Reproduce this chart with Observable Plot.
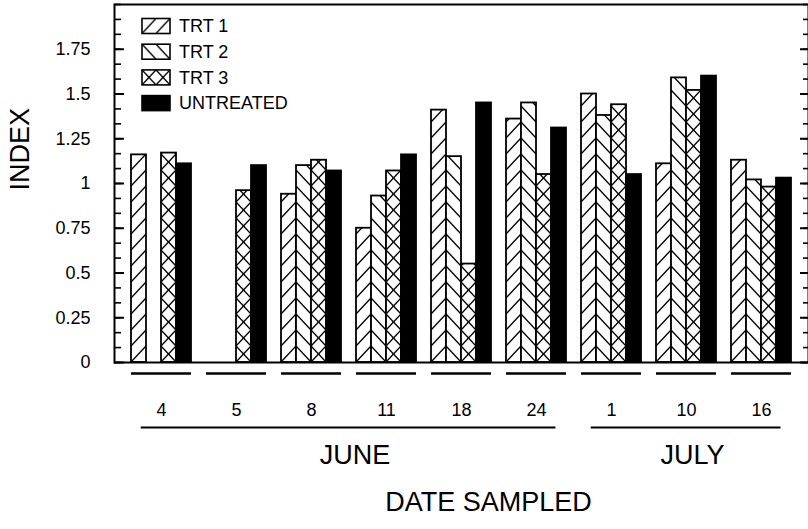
<!DOCTYPE html>
<html><head><meta charset="utf-8">
<script src="https://cdn.jsdelivr.net/npm/d3@7"></script>
<script src="https://cdn.jsdelivr.net/npm/@observablehq/plot@0.6"></script>
<style>
body{margin:0;background:#fff;}
#chart{position:relative;width:808px;height:529px;}
</style></head><body><div id="chart"></div>
<script>
const dates = ["Jun 4","Jun 5","Jun 8","Jun 11","Jun 18","Jun 24","Jul 1","Jul 10","Jul 16"];
const dayLabels = ["4","5","8","11","18","24","1","10","16"];
const months = ["JUNE","JULY"];
const monthOfDate = ["JUNE","JUNE","JUNE","JUNE","JUNE","JUNE","JULY","JULY","JULY"];
const series = ["TRT 1","TRT 2","TRT 3","UNTREATED"];
const trt1 = [1.16, null, 0.94, 0.75, 1.41, 1.36, 1.50, 1.11, 1.13];
const trt2 = [null, null, 1.10, 0.93, 1.15, 1.45, 1.38, 1.59, 1.02];
const trt3 = [1.17, 0.96, 1.13, 1.07, 0.55, 1.05, 1.44, 1.52, 0.98];
const untreated = [1.11, 1.10, 1.07, 1.16, 1.45, 1.31, 1.05, 1.60, 1.03];
const yTicks = [0, 0.25, 0.5, 0.75, 1, 1.25, 1.5, 1.75];
const yTickLabels = ["0", "0.25", "0.5", "0.75", "1", "1.25", "1.5", "1.75"];
const yMinorTicks = d3.range(0, 25).map(i => i / 12);
const yLabel = "INDEX";
const xLabel = "DATE SAMPLED";
const fills = ["url(#h1)", "url(#h2)", "url(#h3)", "black"];

// layout of a group: 4 adjacent bars, each 0.2 of the group step
const barW = 0.2;
const groupIdx = dates.map((d, i) => i);
const allSeries = [trt1, trt2, trt3, untreated];
const rows = dates.flatMap((d, i) => series.map((s, j) => ({
  date: d, g: i, series: s, value: allSeries[j][i],
  x1: i - 2 * barW + j * barW, x2: i - 2 * barW + (j + 1) * barW
}))).filter(r => r.value != null);
const monthRows = months.map(m => {
  const idx = groupIdx.filter(i => monthOfDate[i] === m);
  return {month: m, first: idx[0], last: idx[idx.length - 1]};
});

const font = "'Liberation Sans', Arial, Helvetica, sans-serif";
const outer = 0.2267;
const xMin = -2 * barW - outer, xMax = dates.length - 1 + 2 * barW + outer;
const px = (xMax - xMin) / 694; // data units per pixel along x (for tick lengths)

const plot = Plot.plot({
  width: 808, height: 529,
  marginLeft: 114, marginRight: 0, marginTop: 4, marginBottom: 167,
  style: {fontFamily: font, background: "white", color: "black", fontSize: "18px"},
  x: {domain: [xMin, xMax], axis: null},
  y: {domain: [0, 2], axis: null},
  color: {domain: series, range: fills},
  marks: [
    Plot.rectY(rows, {x1: "x1", x2: "x2", y: "value", fill: "series", stroke: "black", strokeWidth: 1.8}),
    Plot.frame({stroke: "black", strokeWidth: 2}),
    Plot.axisY(yTicks, {anchor: "left", tickSize: 0, tickPadding: 24, fontSize: 18, label: null,
      tickFormat: v => yTickLabels[yTicks.indexOf(v)]}),
    // inward ticks on both vertical edges of the frame
    Plot.ruleY(yTicks, {x1: () => xMin, x2: () => xMin + 10 * px, stroke: "black", strokeWidth: 2}),
    Plot.ruleY(yMinorTicks, {x1: () => xMin, x2: () => xMin + 7 * px, stroke: "black", strokeWidth: 1.6}),
    Plot.ruleY(yTicks, {x1: () => xMax - 8 * px, x2: () => xMax, stroke: "black", strokeWidth: 2}),
    Plot.ruleY(yMinorTicks, {x1: () => xMax - 5 * px, x2: () => xMax, stroke: "black", strokeWidth: 1.6}),
    Plot.axisX(groupIdx, {anchor: "bottom", tickSize: 0, tickPadding: 41, fontSize: 18, label: null,
      tickFormat: i => dayLabels[i]}),
    Plot.ruleY(groupIdx, {x1: i => i - 2 * barW, x2: i => i + 2 * barW, y: () => 0, dy: 11, stroke: "black", strokeWidth: 2.5}),
    Plot.ruleY(monthRows, {x1: d => d.first - 2 * barW + 0.13, x2: d => d.last + 2 * barW - 0.14, y: () => 0, dy: 65, stroke: "black", strokeWidth: 2}),
    Plot.text(monthRows, {x: d => (d.first + d.last) / 2 + 0.08, frameAnchor: "bottom", dy: 101, text: "month", fontSize: 27}),
    Plot.text([yLabel], {frameAnchor: "left", dx: -94, dy: 7, rotate: -90, fontSize: 27}),
    Plot.text([xLabel], {frameAnchor: "bottom", dx: 27, dy: 148, fontSize: 27})
  ]
});

document.getElementById("chart").appendChild(plot);

// hatch patterns, aligned to the bar grid of the x scale
const svg = d3.select(plot);
const xs = plot.scale("x");
const barX = xs.apply(rows[0].x1);
const tw = xs.apply(barW) - xs.apply(0), th = 16;
const defs = svg.insert("defs", ":first-child");
function addPattern(id, paths, units) {
  const p = defs.append("pattern").attr("id", id);
  if (units) {
    p.attr("patternUnits", "objectBoundingBox").attr("width", units.w).attr("height", 1);
  } else {
    p.attr("patternUnits", "userSpaceOnUse").attr("x", barX).attr("y", 362 % th).attr("width", tw).attr("height", th);
  }
  p.append("rect").attr("width", 100).attr("height", 100).attr("fill", "white");
  paths.forEach(d => p.append("path").attr("d", d).attr("stroke", "black").attr("stroke-width", 1.4).attr("fill", "none"));
}
const up = (w, h) => `M${-w * 0.1},${h * 1.1}L${w * 1.1},${-h * 0.1}`;
const dn = (w, h) => `M${-w * 0.1},${-h * 0.1}L${w * 1.1},${h * 1.1}`;
addPattern("h1", [up(tw, th)]);
addPattern("h2", [dn(tw, th)]);
addPattern("h3", [up(tw, th), dn(tw, th)]);
addPattern("l1", [up(14, 15)], {w: 0.5});
addPattern("l2", [dn(14, 15)], {w: 0.5});
addPattern("l3", [up(14, 15), dn(14, 15)], {w: 0.5});

// legend inside the frame
const legendFills = ["url(#l1)", "url(#l2)", "url(#l3)", "black"];
const lg = svg.append("g").attr("font-family", font).attr("text-anchor", "start");
series.forEach((s, i) => {
  const cy = 26 + i * 25.7;
  lg.append("rect").attr("x", 142).attr("y", cy - 7.5).attr("width", 28).attr("height", 15)
    .attr("fill", legendFills[i]).attr("stroke", "black").attr("stroke-width", 1.6);
  lg.append("text").attr("x", 179).attr("y", cy).attr("dy", "0.35em").attr("font-size", 18)
    .attr("text-anchor", "start").text(s);
});
</script></body></html>
